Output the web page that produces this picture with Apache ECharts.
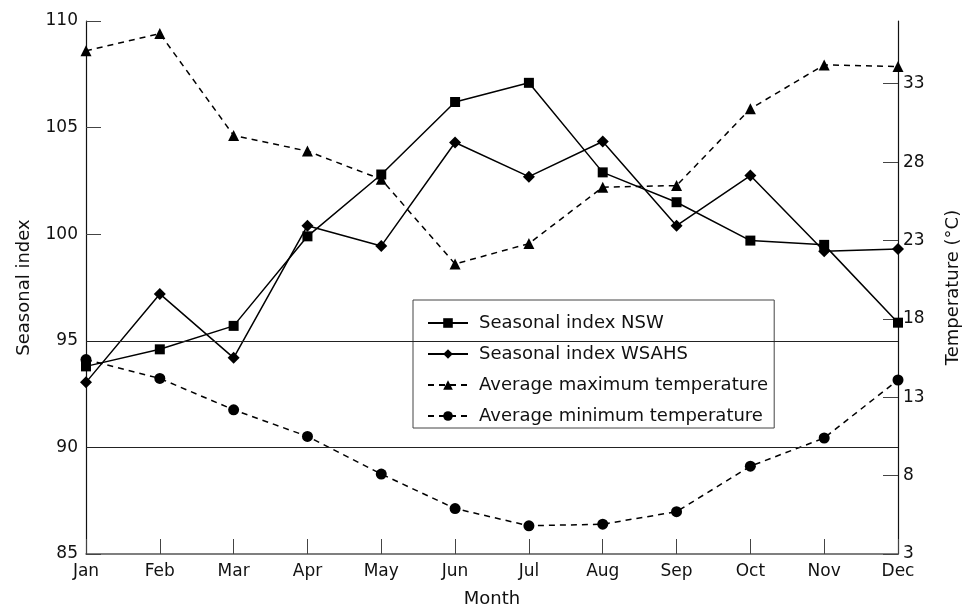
<!DOCTYPE html>
<html>
<head>
<meta charset="utf-8">
<script src="https://cdn.jsdelivr.net/npm/echarts@6/dist/echarts.min.js"></script>
<style>html,body{margin:0;padding:0;background:#fff;}#c{width:964px;height:608px;}</style>
</head>
<body>
<div id="c"></div>
<script>
const months = ['Jan','Feb','Mar','Apr','May','Jun','Jul','Aug','Sep','Oct','Nov','Dec'];
const nswIndex = [93.8, 94.6, 95.7, 99.9, 102.8, 106.2, 107.1, 102.9, 101.5, 99.7, 99.5, 95.85];
const wsahsIndex = [93.05, 97.2, 94.2, 100.4, 99.45, 104.3, 102.7, 104.35, 100.4, 102.75, 99.2, 99.3];
const maxTemp = [35.1, 36.2, 29.7, 28.7, 26.9, 21.5, 22.8, 26.4, 26.5, 31.4, 34.2, 34.1];
const minTemp = [15.4, 14.2, 12.2, 10.5, 8.1, 5.9, 4.8, 4.9, 5.7, 8.6, 10.4, 14.1];
const tempTicks = [3, 8, 13, 18, 23, 28, 33];
const refLines = [95, 90];

const FONT = 'DejaVu Sans';
const chart = echarts.init(document.getElementById('c'));
chart.setOption({
  animation: false,
  backgroundColor: '#fff',
  textStyle: { fontFamily: FONT, color: '#111' },
  grid: { left: 86, right: 66, top: 21, bottom: 54, containLabel: false, outerBoundsMode: 'none' },
  legend: {
    orient: 'vertical',
    left: 413, top: 300,
    padding: [13, 6, 2, 14],
    itemGap: 11,
    itemWidth: 40, itemHeight: 12,
    backgroundColor: '#fff',
    borderColor: '#444', borderWidth: 1,
    textStyle: { fontFamily: FONT, fontSize: 18, color: '#111', lineHeight: 20, padding: [0, 0, 0, 6] },
    data: ['Seasonal index NSW', 'Seasonal index WSAHS', 'Average maximum temperature', 'Average minimum temperature']
  },
  xAxis: {
    type: 'category', data: months, boundaryGap: false,
    name: 'Month', nameLocation: 'middle', nameGap: 36,
    nameTextStyle: { fontFamily: FONT, fontSize: 18, color: '#111' },
    axisLine: { lineStyle: { color: '#555', width: 1.5 } },
    axisTick: { inside: true, length: 15, lineStyle: { color: '#444' } },
    axisLabel: { fontFamily: FONT, fontSize: 17, color: '#111', margin: 9 },
    splitLine: { show: false }
  },
  yAxis: [{
    type: 'value', min: 85, max: 110, interval: 5,
    name: 'Seasonal index', nameLocation: 'middle', nameGap: 53,
    nameTextStyle: { fontFamily: FONT, fontSize: 18, color: '#111' },
    axisLine: { show: true, lineStyle: { color: '#111', width: 1.2 } },
    axisTick: { show: true, inside: true, length: 15, lineStyle: { color: '#444' } },
    axisLabel: { fontFamily: FONT, fontSize: 17, color: '#111', margin: 8 },
    splitLine: { show: false }
  }, {
    type: 'value', min: 3, max: 37, position: 'right',
    name: 'Temperature (°C)', nameLocation: 'middle', nameGap: 46,
    nameTextStyle: { fontFamily: FONT, fontSize: 18, color: '#111' },
    axisLine: { show: true, lineStyle: { color: '#111', width: 1.2 } },
    axisTick: { show: true, inside: true, length: 15, customValues: tempTicks, lineStyle: { color: '#444' } },
    axisLabel: { fontFamily: FONT, fontSize: 17, color: '#111', margin: 5, customValues: tempTicks },
    splitLine: { show: false }
  }],
  series: [{
    name: 'Seasonal index NSW', type: 'line', yAxisIndex: 0, data: nswIndex,
    symbol: 'rect', symbolSize: 10,
    itemStyle: { color: '#000' },
    lineStyle: { color: '#000', width: 1.5 },
    markLine: {
      silent: true, symbol: 'none', label: { show: false },
      lineStyle: { color: '#222', width: 1, type: 'solid' },
      data: refLines.map(v => ({ yAxis: v }))
    },
    z: 3
  }, {
    name: 'Seasonal index WSAHS', type: 'line', yAxisIndex: 0, data: wsahsIndex,
    symbol: 'diamond', symbolSize: 12,
    itemStyle: { color: '#000' },
    lineStyle: { color: '#000', width: 1.5 },
    z: 3
  }, {
    name: 'Average maximum temperature', type: 'line', yAxisIndex: 1, data: maxTemp,
    symbol: 'triangle', symbolSize: 11,
    itemStyle: { color: '#000' },
    lineStyle: { color: '#000', width: 1.5, type: [6, 5] },
    z: 3
  }, {
    name: 'Average minimum temperature', type: 'line', yAxisIndex: 1, data: minTemp,
    symbol: 'circle', symbolSize: 11,
    itemStyle: { color: '#000' },
    lineStyle: { color: '#000', width: 1.5, type: [6, 5] },
    z: 3
  }]
});
</script>
</body>
</html>
